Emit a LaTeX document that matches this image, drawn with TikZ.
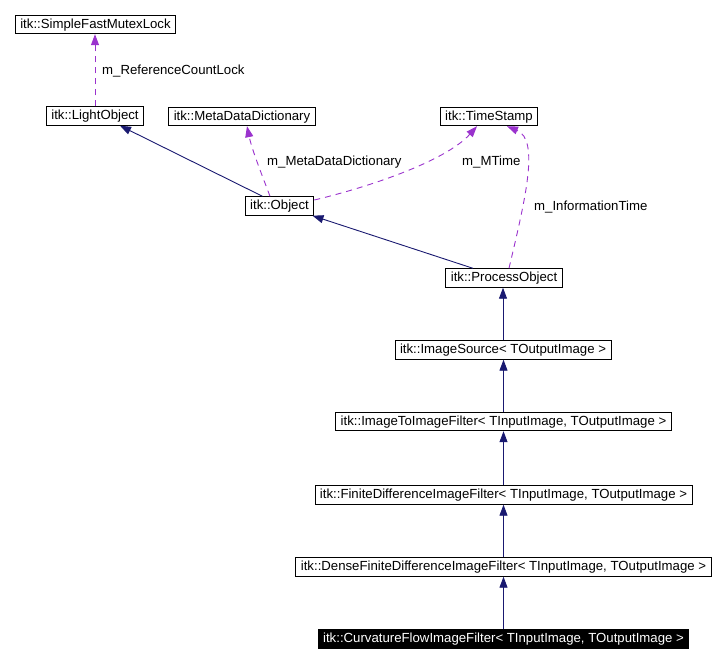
\documentclass[tikz,border=0pt]{standalone}
\usepackage{fontspec}
\setmainfont{Liberation Sans}
\usetikzlibrary{arrows.meta}
\definecolor{inh}{HTML}{191970}
\definecolor{use}{HTML}{9A32CD}
\begin{document}
\begin{tikzpicture}[x=1pt,y=-1pt,
  cls/.style={draw=black,line width=0.9pt,fill=white,inner xsep=5pt,inner ysep=0pt,minimum height=18.5pt,font=\fontsize{13.2}{15}\selectfont,text height=9.7pt,text depth=2.5pt},
  cur/.style={cls,fill=black,text=white},
  inhedge/.style={draw=inh,line width=0.9pt,-{Triangle[length=11pt,width=8pt]}},
  useedge/.style={draw=use,line width=0.9pt,dash pattern=on 6pt off 5pt,-{Triangle[length=11pt,width=8pt]}},
  lbl/.style={anchor=west,inner sep=0pt,font=\fontsize{13.2}{15}\selectfont}]
\useasboundingbox (0,0) rectangle (722,662);
\node[cls] (sfml) at (95.5,24.5) {itk::SimpleFastMutexLock};
\node[cls] (lo) at (95,116) {itk::LightObject};
\node[cls] (mdd) at (242,116.5) {itk::MetaDataDictionary};
\node[cls] (ts) at (489,116.5) {itk::TimeStamp};
\node[cls] (obj) at (279.5,206) {itk::Object};
\node[cls] (po) at (504,278) {itk::ProcessObject};
\node[cls] (is) at (503,350) {itk::ImageSource{\char`<} TOutputImage {\char`>}};
\node[cls] (itif) at (503.5,421.5) {itk::ImageToImageFilter{\char`<} TInputImage, TOutputImage {\char`>}};
\node[cls] (fdif) at (503.5,495) {itk::FiniteDifferenceImageFilter{\char`<} TInputImage, TOutputImage {\char`>}};
\node[cls] (dfdif) at (503.5,567) {itk::DenseFiniteDifferenceImageFilter{\char`<} TInputImage, TOutputImage {\char`>}};
\node[cur] (cfif) at (503.5,639) {itk::CurvatureFlowImageFilter{\char`<} TInputImage, TOutputImage {\char`>}};

% usage edges
\draw[useedge] (lo.north) -- (lo.north |- sfml.south);
\node[lbl] (l1) at (102,71) {m\_ReferenceCountLock};
\draw[useedge] ([xshift=-9.5pt]obj.north) .. controls (262,175) and (252,150) .. ([xshift=5pt]mdd.south);
\node[lbl] (l2) at (267,162) {m\_MetaDataDictionary};
\draw[useedge] ([yshift=6pt]obj.east) .. controls (365,188) and (445,162) .. ([xshift=-12pt]ts.south);
\node[lbl] (l3) at (462,162) {m\_MTime};
\draw[useedge] ([xshift=5pt]po.north) .. controls (525,200) and (540,140) .. ([xshift=18pt]ts.south);
\node[lbl] (l4) at (534,207) {m\_InformationTime};

% inheritance edges
\draw[inhedge] ([xshift=-17pt]obj.north) -- ([xshift=25pt]lo.south);
\draw[inhedge] ([xshift=-31pt]po.north) -- ([xshift=33pt]obj.south);
\draw[inhedge] (is.north) -- (is.north |- po.south);
\draw[inhedge] (itif.north) -- (itif.north |- is.south);
\draw[inhedge] (fdif.north) -- (fdif.north |- itif.south);
\draw[inhedge] (dfdif.north) -- (dfdif.north |- fdif.south);
\draw[inhedge] (cfif.north) -- (cfif.north |- dfdif.south);
\end{tikzpicture}
\end{document}
